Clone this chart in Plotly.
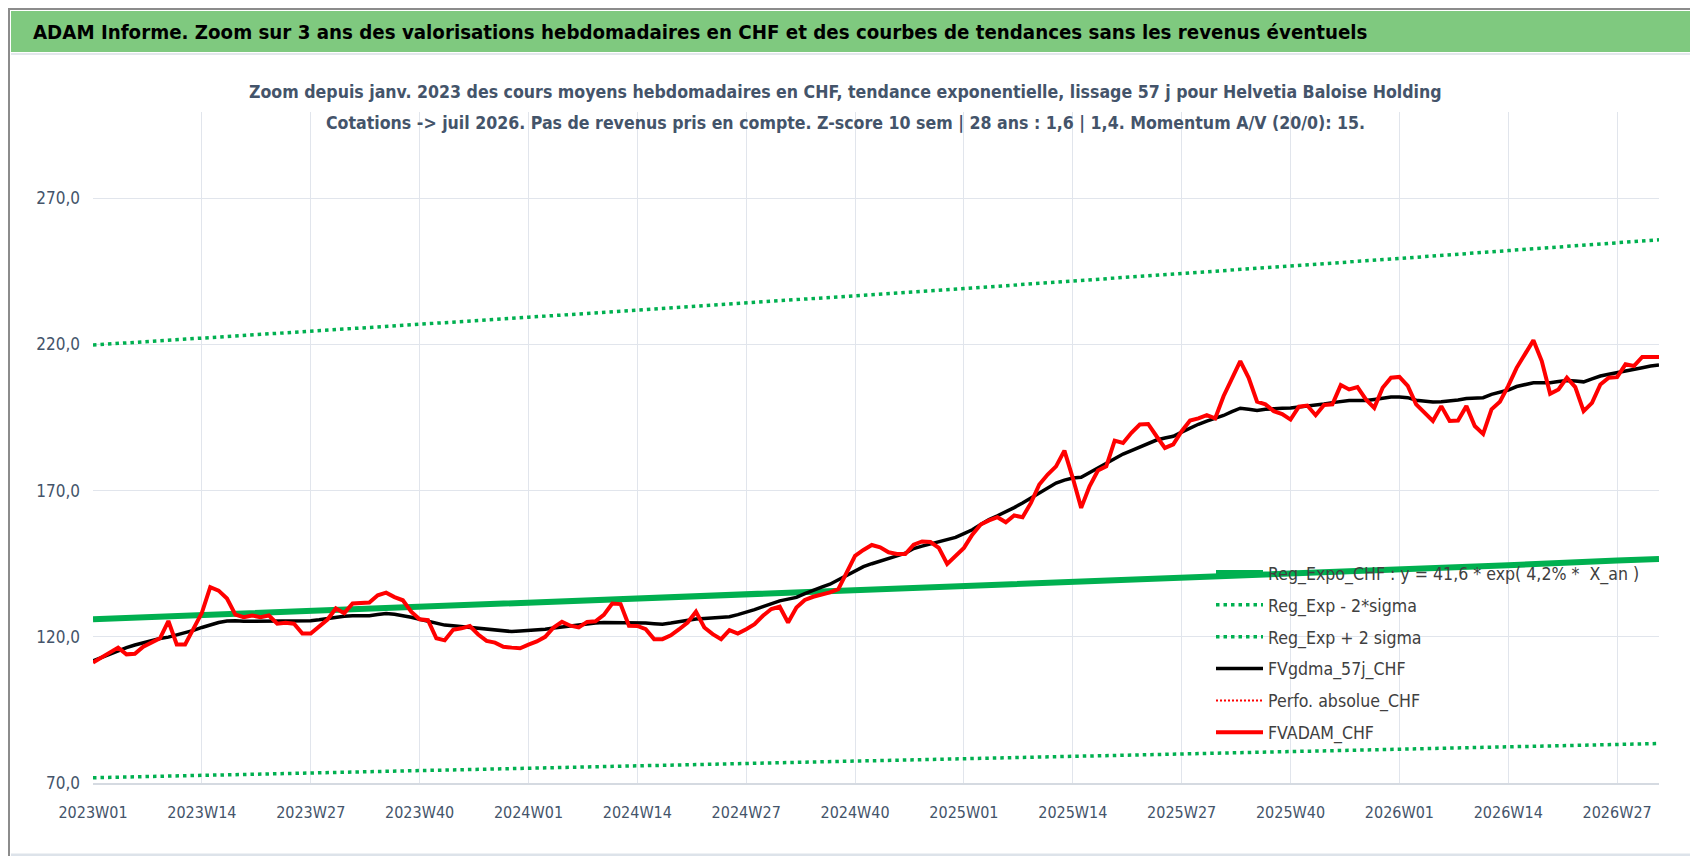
import plotly.graph_objects as go

# semaines 2023W01 -> 2026W32
weeks = [f"{y}W{w:02d}" for y in (2023, 2024, 2025) for w in range(1, 53)]
weeks += [f"2026W{w:02d}" for w in range(1, 33)]

tick_weeks = weeks[::13]

fvadam_chf = [
    111.2, 112.9, 114.6, 116.3, 114.0, 114.2, 116.6, 118.0, 119.5, 125.4,
    117.4, 117.4, 122.8, 128.2, 137.0, 135.8, 133.1, 127.6, 126.7, 127.3,
    126.7, 127.3, 124.5, 124.8, 124.5, 121.1, 121.1, 123.7, 125.9, 129.7,
    128.1, 131.4, 131.7, 131.7, 134.2, 135.1, 133.6, 132.5, 128.6, 126.0,
    125.7, 119.5, 118.8, 122.4, 122.9, 123.7, 120.8, 118.6, 118.0, 116.6,
    116.3, 116.1, 117.3, 118.4, 120.0, 123.2, 125.1, 123.8, 123.2, 125.1,
    125.3, 127.5, 131.4, 131.2, 123.8, 123.7, 122.6, 119.2, 119.2, 120.5,
    122.6, 124.9, 128.6, 123.2, 120.9, 119.2, 122.3, 121.1, 122.6, 124.3,
    127.2, 129.5, 130.3, 124.9, 130.0, 132.6, 133.7, 134.3, 135.2, 136.3,
    142.0, 147.7, 149.7, 151.4, 150.6, 148.9, 148.3, 148.3, 151.5, 152.6,
    152.4, 150.4, 144.9, 147.6, 150.4, 154.9, 158.4, 159.8, 160.9, 159.2,
    161.5, 160.9, 165.8, 172.1, 175.5, 178.3, 183.7, 174.3, 164.1, 171.5,
    176.9, 178.3, 187.1, 186.3, 189.8, 192.6, 192.8, 188.6, 184.6, 185.8,
    190.3, 194.0, 194.7, 195.8, 194.7, 202.3, 208.6, 214.3, 208.6, 200.4,
    199.5, 197.2, 196.2, 194.3, 198.7, 199.1, 195.8, 199.3, 199.5, 206.1,
    204.6, 205.4, 201.2, 198.3, 205.2, 208.6, 208.9, 205.8, 199.5, 196.6,
    193.8, 198.9, 193.8, 194.0, 198.9, 192.1, 189.4, 197.8, 200.4, 205.8,
    212.0, 216.7, 221.4, 214.3, 203.1, 204.6, 208.6, 205.4, 197.2, 200.0,
    206.3, 208.6, 208.8, 213.2, 212.6, 215.7, 215.7, 215.7,
]

fvgdma_57j = [
    111.8, 113.0, 114.2, 115.4, 116.3, 117.2, 118.0, 118.8, 119.4, 119.9,
    120.6, 121.2, 122.2, 123.2, 124.2, 124.9, 125.4, 125.5, 125.3, 125.3,
    125.4, 125.5, 125.5, 125.5, 125.5, 125.5, 125.5, 125.8, 126.3, 126.8,
    127.0, 127.2, 127.2, 127.2, 127.6, 128.0, 127.7, 127.3, 126.7, 126.0,
    125.3, 124.4, 124.0, 123.8, 123.5, 123.2, 122.9, 122.6, 122.4, 122.0,
    121.8, 122.0, 122.1, 122.3, 122.6, 123.0, 123.4, 123.8, 124.1, 124.4,
    124.7, 124.9, 124.9, 124.9, 124.9, 124.9, 124.7, 124.5, 124.3, 124.7,
    125.2, 125.7, 126.1, 126.3, 126.5, 126.7, 126.9, 127.6, 128.3, 129.3,
    130.3, 131.3, 132.3, 132.9, 133.5, 134.8, 136.0, 137.0, 138.0, 139.5,
    140.9, 142.5, 144.0, 145.0, 146.0, 146.9, 147.7, 148.6, 150.2, 151.0,
    151.8, 152.5, 153.2, 154.0, 155.3, 156.6, 158.4, 160.1, 161.4, 162.7,
    164.2, 165.8, 167.5, 169.2, 170.9, 172.6, 173.6, 174.3, 174.6, 176.2,
    177.8, 179.4, 181.0, 182.5, 183.7, 184.8, 186.0, 187.3, 188.0, 188.6,
    190.0, 191.5, 192.7, 193.8, 194.6, 195.7, 197.0, 198.2, 197.8, 197.4,
    197.8, 198.1, 198.2, 198.3, 198.6, 198.9, 199.2, 199.6, 200.1, 200.6,
    200.8, 200.8, 200.8, 201.2, 201.6, 202.0, 202.0, 201.8, 200.9, 200.5,
    200.3, 200.4, 200.6, 201.0, 201.5, 201.7, 201.8, 202.9, 203.6, 204.4,
    205.6, 206.4, 206.9, 206.9, 206.9, 207.3, 207.7, 207.5, 207.2, 208.2,
    209.2, 209.8, 210.3, 210.9, 211.5, 212.0, 212.6, 213.0,
]

# courbes de regression lues aux semaines repères
reg_weeks = tick_weeks + [weeks[-1]]
reg_expo = [126.0, 127.4, 128.7, 130.1, 131.4, 132.8, 134.2, 135.6,
            137.1, 138.5, 140.0, 141.5, 143.0, 144.5, 146.1, 146.6]
reg_moins_2s = [71.8, 72.6, 73.4, 74.1, 74.9, 75.7, 76.5, 77.3,
                78.1, 79.0, 79.8, 80.6, 81.5, 82.4, 83.2, 83.5]
reg_plus_2s = [219.8, 222.1, 224.5, 226.9, 229.3, 231.7, 234.1, 236.6,
               239.1, 241.7, 244.2, 246.8, 249.4, 252.1, 254.8, 255.8]

y_ticks = [70, 120, 170, 220, 270]

W, H = 1698, 856
L, R, T, B = 85, 47, 104, 81
PW, PH = W - L - R, H - T - B


def px_x(p):
    return (p - L) / PW


def px_y(p):
    return (H - B - p) / PH


FONT = "Liberation Sans Narrow, DejaVu Sans Condensed, Arial Narrow, sans-serif"
GREEN = "#00B050"
DOTS = "3.5px,4px"

fig = go.Figure()
fig.add_trace(go.Scatter(x=reg_weeks, y=reg_expo, mode="lines", legendgroup="a",
                         name="Reg_Expo_CHF : y = 41,6 * exp( 4,2% *  X_an )",
                         line=dict(color=GREEN, width=6)))
fig.add_trace(go.Scatter(x=reg_weeks, y=reg_moins_2s, mode="lines", legendgroup="b",
                         name="Reg_Exp - 2*sigma",
                         line=dict(color=GREEN, width=3.5, dash=DOTS)))
fig.add_trace(go.Scatter(x=reg_weeks, y=reg_plus_2s, mode="lines", legendgroup="c",
                         name="Reg_Exp + 2 sigma",
                         line=dict(color=GREEN, width=3.5, dash=DOTS)))
fig.add_trace(go.Scatter(x=weeks, y=fvgdma_57j, mode="lines", legendgroup="d",
                         name="FVgdma_57j_CHF",
                         line=dict(color="black", width=3.5)))
fig.add_trace(go.Scatter(x=[weeks[0]], y=[None], mode="lines", legendgroup="e",
                         name="Perfo. absolue_CHF",
                         line=dict(color="#FF0000", width=2, dash="2px,2px")))
fig.add_trace(go.Scatter(x=weeks, y=fvadam_chf, mode="lines", legendgroup="f",
                         name="FVADAM_CHF",
                         line=dict(color="#FF0000", width=4)))

shapes = [
    # cadre
    dict(type="rect", xref="paper", yref="paper", layer="below",
         x0=px_x(1), x1=px_x(W - 2), y0=px_y(H - 2), y1=px_y(1),
         line=dict(color="#8C8C8C", width=2)),
    # bandeau vert
    dict(type="rect", xref="paper", yref="paper", layer="below",
         x0=px_x(3), x1=px_x(W - 3), y0=px_y(44), y1=px_y(3),
         fillcolor="#7FC97F", line=dict(width=0)),
    dict(type="line", xref="paper", yref="paper", layer="below",
         x0=px_x(3), x1=px_x(W - 3), y0=px_y(46), y1=px_y(46),
         line=dict(color="#E3E7EC", width=2)),
    dict(type="line", xref="paper", yref="paper", layer="below",
         x0=px_x(3), x1=px_x(W - 3), y0=px_y(847), y1=px_y(847),
         line=dict(color="#DDE3EA", width=3)),
]

annotations = [
    dict(xref="paper", yref="paper", x=px_x(23), y=px_y(24),
         xanchor="left", yanchor="middle", showarrow=False,
         text="<b>ADAM Informe. Zoom sur 3 ans des valorisations hebdomadaires en CHF "
              "et des courbes de tendances sans les revenus éventuels</b>",
         font=dict(family=FONT, size=20.3, color="black")),
    dict(xref="paper", yref="paper", x=px_x(837), y=px_y(84),
         xanchor="center", yanchor="middle", showarrow=False,
         text="<b>Zoom depuis janv. 2023 des cours moyens hebdomadaires en CHF, tendance "
              "exponentielle, lissage 57 j pour Helvetia Baloise Holding</b>",
         font=dict(family=FONT, size=17.6, color="#44546A")),
    dict(xref="paper", yref="paper", x=px_x(837), y=px_y(115),
         xanchor="center", yanchor="middle", showarrow=False,
         text="<b>Cotations -> juil 2026. Pas de revenus pris en compte. Z-score 10 sem "
              "| 28 ans : 1,6 | 1,4. Momentum A/V (20/0): 15.</b>",
         font=dict(family=FONT, size=17.6, color="#44546A")),
]

fig.update_layout(
    width=W, height=H, autosize=False,
    margin=dict(l=L, r=R, t=T, b=B),
    paper_bgcolor="white", plot_bgcolor="white",
    separators=", ",
    font=dict(family=FONT, size=17, color="#44546A"),
    shapes=shapes,
    annotations=annotations,
    showlegend=True,
    legend=dict(x=px_x(1203), y=px_y(547), xanchor="left", yanchor="top",
                bgcolor="rgba(0,0,0,0)", traceorder="grouped", tracegroupgap=6,
                itemwidth=47,
                font=dict(family=FONT, size=17.6, color="#404040")),
)

fig.update_xaxes(type="category", categoryorder="array", categoryarray=weeks,
                 range=[0, len(weeks) - 1], tickvals=tick_weeks,
                 showgrid=True, gridcolor="#E1E5EC", gridwidth=1,
                 showline=True, linecolor="#D5DAE1", linewidth=2,
                 ticks="", ticklabelstandoff=14, zeroline=False,
                 tickfont=dict(family=FONT, size=16, color="#44546A"))
fig.update_yaxes(range=[70, 299.5], tickvals=y_ticks, tickformat=".1f",
                 showgrid=True, gridcolor="#E1E5EC", gridwidth=1,
                 zeroline=False, ticks="", ticklabelstandoff=12,
                 tickfont=dict(family=FONT, size=17, color="#44546A"))

fig.write_html("out.html")
